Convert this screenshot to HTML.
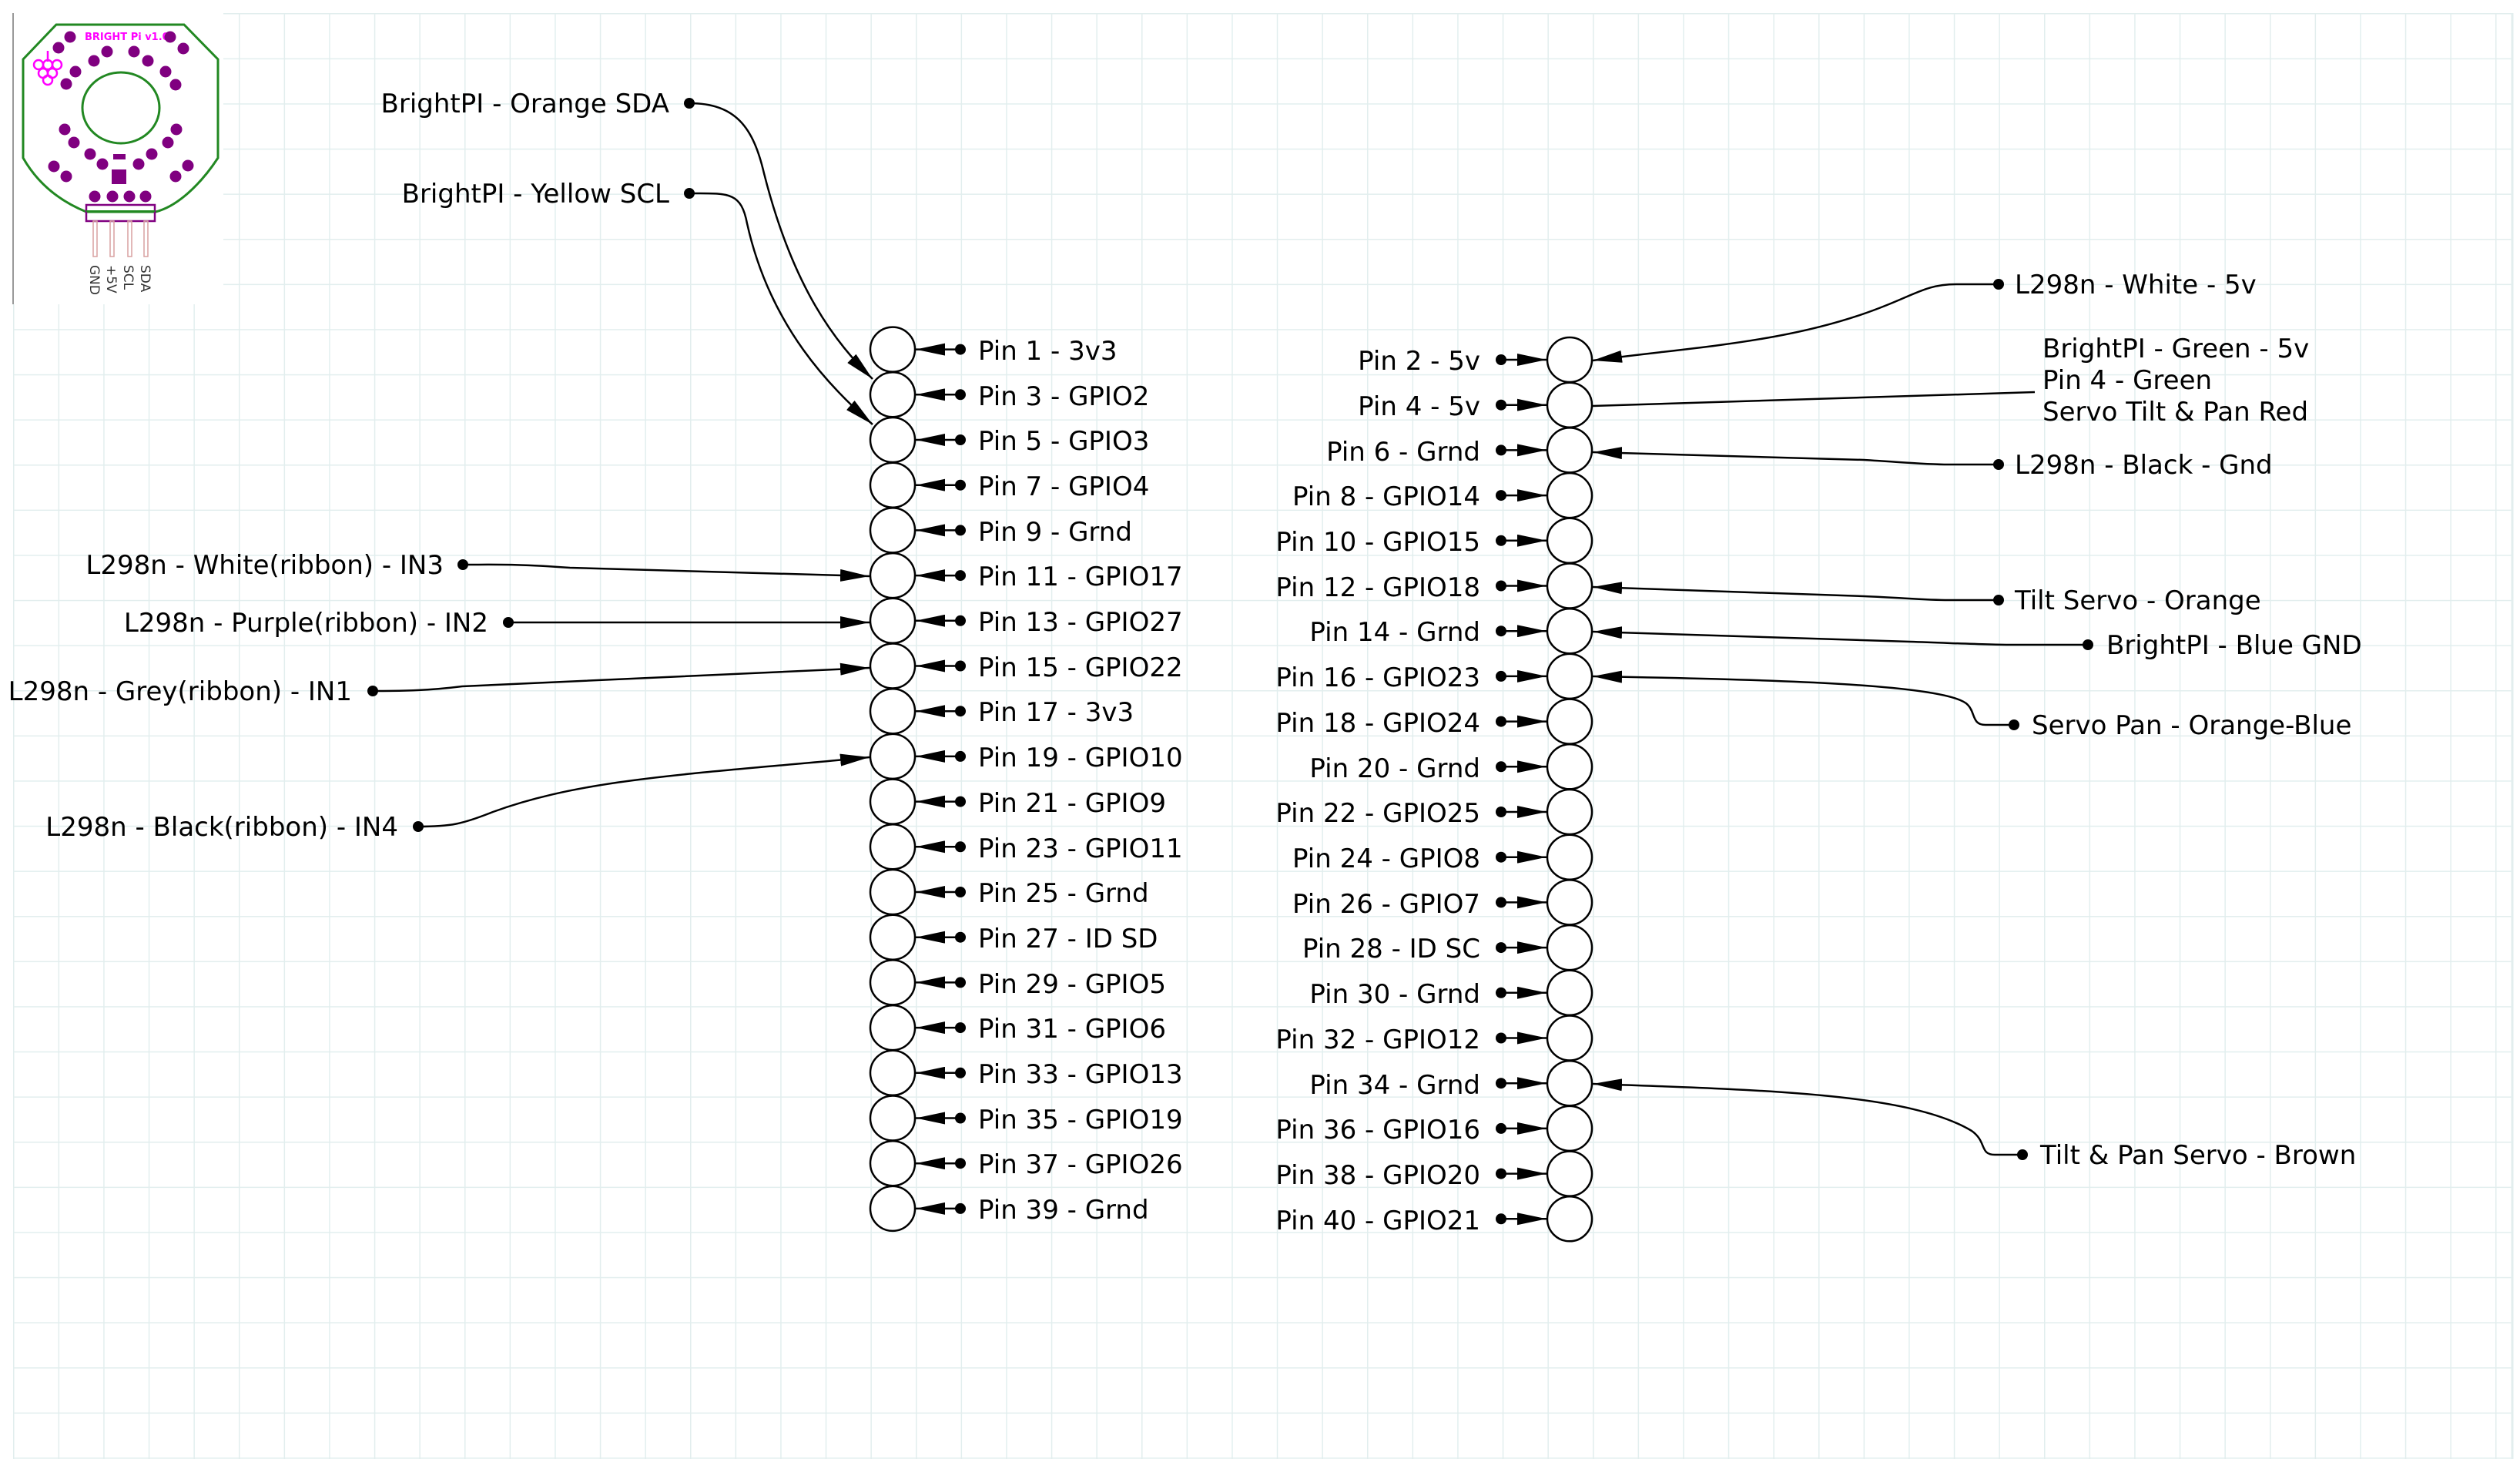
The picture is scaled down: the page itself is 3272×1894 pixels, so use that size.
<!DOCTYPE html>
<html><head><meta charset="utf-8"><style>
html,body{margin:0;padding:0;background:#fff}
svg{display:block}
text{font-family:"DejaVu Sans","Liberation Sans",sans-serif;font-size:34px;fill:#000}
</style></head><body>
<svg width="3272" height="1894" viewBox="0 0 3272 1894" xmlns="http://www.w3.org/2000/svg">
<defs>
<pattern id="g" x="17" y="17" width="58.6" height="58.6" patternUnits="userSpaceOnUse">
<path d="M0,0 H58.6 M0,0 V58.6" stroke="#e2eeee" stroke-width="3" fill="none"/>
</pattern>
<marker id="ah" markerUnits="userSpaceOnUse" viewBox="0 0 38 16" refX="38" refY="8" markerWidth="38" markerHeight="16" orient="auto">
<path d="M0,0 L38,8 L0,16 z" fill="#000"/>
</marker>
<marker id="dt" markerUnits="userSpaceOnUse" viewBox="0 0 16 16" refX="8" refY="8" markerWidth="16" markerHeight="16" orient="auto">
<circle cx="8" cy="8" r="7" fill="#000"/>
</marker>
</defs>
<rect x="17" y="17" width="3245" height="1877" fill="url(#g)"/>
<line x1="3262" y1="17" x2="3262" y2="1894" stroke="#e2eeee" stroke-width="3"/>

<!-- BrightPi board image -->
<rect x="17" y="17" width="273" height="378" fill="#fff"/>
<line x1="17" y1="17" x2="17" y2="395" stroke="#999" stroke-width="2"/>
<path d="M73,32 L239,32 L283,77 L283,205 C260,240 230,268 202,275 L112,275 C80,262 50,240 30,205 L30,77 Z" fill="#fff" stroke="#228822" stroke-width="3"/>
<ellipse cx="157" cy="140" rx="50" ry="46" fill="none" stroke="#228822" stroke-width="3"/>
<text x="110" y="52" style="font-size:13px;fill:#ff00ff;font-weight:bold">BRIGHT Pi v1.0</text>
<g fill="#800080">
<circle cx="91" cy="48" r="7.5"/><circle cx="221" cy="48" r="7.5"/><circle cx="76" cy="62" r="7.5"/><circle cx="238" cy="63" r="7.5"/>
<circle cx="139" cy="67" r="7.5"/><circle cx="174" cy="67" r="7.5"/><circle cx="122" cy="79" r="7.5"/><circle cx="192" cy="79" r="7.5"/>
<circle cx="98" cy="93" r="7.5"/><circle cx="215" cy="93" r="7.5"/><circle cx="86" cy="109" r="7.5"/><circle cx="228" cy="110" r="7.5"/>
<circle cx="84" cy="168" r="7.5"/><circle cx="229" cy="168" r="7.5"/><circle cx="96" cy="185" r="7.5"/><circle cx="218" cy="185" r="7.5"/>
<circle cx="117" cy="200" r="7.5"/><circle cx="197" cy="200" r="7.5"/><circle cx="133" cy="213" r="7.5"/><circle cx="180" cy="213" r="7.5"/>
<circle cx="70" cy="216" r="7.5"/><circle cx="244" cy="215" r="7.5"/><circle cx="86" cy="229" r="7.5"/><circle cx="228" cy="229" r="7.5"/>
<circle cx="123" cy="255" r="7.5"/><circle cx="146" cy="255" r="7.5"/><circle cx="168" cy="255" r="7.5"/><circle cx="189" cy="255" r="7.5"/>
<rect x="145" y="220" width="19" height="19"/>
<rect x="147" y="200" width="16" height="7"/>
</g>
<g fill="none" stroke="#ff00ff" stroke-width="2.5">
<circle cx="50" cy="84" r="6"/><circle cx="62" cy="84" r="6"/><circle cx="74" cy="84" r="6"/>
<circle cx="56" cy="95" r="6"/><circle cx="68" cy="95" r="6"/><circle cx="62" cy="104" r="6"/>
<line x1="62" y1="66" x2="62" y2="80"/>
</g>
<rect x="112" y="266" width="89" height="21" fill="none" stroke="#800080" stroke-width="2.5"/>
<line x1="112" y1="274" x2="201" y2="274" stroke="#228822" stroke-width="2"/>
<g fill="none" stroke="#d9a0a0" stroke-width="1.5">
<rect x="121" y="287" width="5" height="46"/><rect x="143" y="287" width="5" height="46"/>
<rect x="166" y="287" width="5" height="46"/><rect x="187" y="287" width="5" height="46"/>
</g>
<text transform="translate(183,344) rotate(90)" style="font-size:17px;fill:#333">SDA</text>
<text transform="translate(161,344) rotate(90)" style="font-size:17px;fill:#333">SCL</text>
<text transform="translate(139,344) rotate(90)" style="font-size:17px;fill:#333">+5V</text>
<text transform="translate(117,344) rotate(90)" style="font-size:17px;fill:#333">GND</text>

<!-- Left header column -->
<g fill="#fff" stroke="#000" stroke-width="2.5">
<circle cx="1159" cy="453.6" r="29"/><circle cx="1159" cy="512.3" r="29"/><circle cx="1159" cy="571" r="29"/><circle cx="1159" cy="629.7" r="29"/>
<circle cx="1159" cy="688.4" r="29"/><circle cx="1159" cy="747.1" r="29"/><circle cx="1159" cy="805.8" r="29"/><circle cx="1159" cy="864.5" r="29"/>
<circle cx="1159" cy="923.2" r="29"/><circle cx="1159" cy="981.9" r="29"/><circle cx="1159" cy="1040.6" r="29"/><circle cx="1159" cy="1099.3" r="29"/>
<circle cx="1159" cy="1158" r="29"/><circle cx="1159" cy="1216.7" r="29"/><circle cx="1159" cy="1275.4" r="29"/><circle cx="1159" cy="1334.1" r="29"/>
<circle cx="1159" cy="1392.8" r="29"/><circle cx="1159" cy="1451.5" r="29"/><circle cx="1159" cy="1510.2" r="29"/><circle cx="1159" cy="1568.9" r="29"/>
</g>
<g stroke="#000" stroke-width="2.5" marker-start="url(#dt)" marker-end="url(#ah)">
<line x1="1247" y1="453.6" x2="1189" y2="453.6"/><line x1="1247" y1="512.3" x2="1189" y2="512.3"/><line x1="1247" y1="571" x2="1189" y2="571"/><line x1="1247" y1="629.7" x2="1189" y2="629.7"/>
<line x1="1247" y1="688.4" x2="1189" y2="688.4"/><line x1="1247" y1="747.1" x2="1189" y2="747.1"/><line x1="1247" y1="805.8" x2="1189" y2="805.8"/><line x1="1247" y1="864.5" x2="1189" y2="864.5"/>
<line x1="1247" y1="923.2" x2="1189" y2="923.2"/><line x1="1247" y1="981.9" x2="1189" y2="981.9"/><line x1="1247" y1="1040.6" x2="1189" y2="1040.6"/><line x1="1247" y1="1099.3" x2="1189" y2="1099.3"/>
<line x1="1247" y1="1158" x2="1189" y2="1158"/><line x1="1247" y1="1216.7" x2="1189" y2="1216.7"/><line x1="1247" y1="1275.4" x2="1189" y2="1275.4"/><line x1="1247" y1="1334.1" x2="1189" y2="1334.1"/>
<line x1="1247" y1="1392.8" x2="1189" y2="1392.8"/><line x1="1247" y1="1451.5" x2="1189" y2="1451.5"/><line x1="1247" y1="1510.2" x2="1189" y2="1510.2"/><line x1="1247" y1="1568.9" x2="1189" y2="1568.9"/>
</g>
<g>
<text x="1270" y="467">Pin 1 - 3v3</text><text x="1270" y="526">Pin 3 - GPIO2</text><text x="1270" y="584">Pin 5 - GPIO3</text><text x="1270" y="643">Pin 7 - GPIO4</text>
<text x="1270" y="702">Pin 9 - Grnd</text><text x="1270" y="760">Pin 11 - GPIO17</text><text x="1270" y="819">Pin 13 - GPIO27</text><text x="1270" y="878">Pin 15 - GPIO22</text>
<text x="1270" y="936">Pin 17 - 3v3</text><text x="1270" y="995">Pin 19 - GPIO10</text><text x="1270" y="1054">Pin 21 - GPIO9</text><text x="1270" y="1113">Pin 23 - GPIO11</text>
<text x="1270" y="1171">Pin 25 - Grnd</text><text x="1270" y="1230">Pin 27 - ID SD</text><text x="1270" y="1289">Pin 29 - GPIO5</text><text x="1270" y="1347">Pin 31 - GPIO6</text>
<text x="1270" y="1406">Pin 33 - GPIO13</text><text x="1270" y="1465">Pin 35 - GPIO19</text><text x="1270" y="1523">Pin 37 - GPIO26</text><text x="1270" y="1582">Pin 39 - Grnd</text>
</g>

<!-- Right header column -->
<g fill="#fff" stroke="#000" stroke-width="2.5">
<circle cx="2038" cy="467" r="29"/><circle cx="2038" cy="525.7" r="29"/><circle cx="2038" cy="584.4" r="29"/><circle cx="2038" cy="643.1" r="29"/>
<circle cx="2038" cy="701.8" r="29"/><circle cx="2038" cy="760.5" r="29"/><circle cx="2038" cy="819.2" r="29"/><circle cx="2038" cy="877.9" r="29"/>
<circle cx="2038" cy="936.6" r="29"/><circle cx="2038" cy="995.3" r="29"/><circle cx="2038" cy="1054" r="29"/><circle cx="2038" cy="1112.7" r="29"/>
<circle cx="2038" cy="1171.4" r="29"/><circle cx="2038" cy="1230.1" r="29"/><circle cx="2038" cy="1288.8" r="29"/><circle cx="2038" cy="1347.5" r="29"/>
<circle cx="2038" cy="1406.2" r="29"/><circle cx="2038" cy="1464.9" r="29"/><circle cx="2038" cy="1523.6" r="29"/><circle cx="2038" cy="1582.3" r="29"/>
</g>
<g stroke="#000" stroke-width="2.5" marker-start="url(#dt)" marker-end="url(#ah)">
<line x1="1949" y1="467" x2="2008" y2="467"/><line x1="1949" y1="525.7" x2="2008" y2="525.7"/><line x1="1949" y1="584.4" x2="2008" y2="584.4"/><line x1="1949" y1="643.1" x2="2008" y2="643.1"/>
<line x1="1949" y1="701.8" x2="2008" y2="701.8"/><line x1="1949" y1="760.5" x2="2008" y2="760.5"/><line x1="1949" y1="819.2" x2="2008" y2="819.2"/><line x1="1949" y1="877.9" x2="2008" y2="877.9"/>
<line x1="1949" y1="936.6" x2="2008" y2="936.6"/><line x1="1949" y1="995.3" x2="2008" y2="995.3"/><line x1="1949" y1="1054" x2="2008" y2="1054"/><line x1="1949" y1="1112.7" x2="2008" y2="1112.7"/>
<line x1="1949" y1="1171.4" x2="2008" y2="1171.4"/><line x1="1949" y1="1230.1" x2="2008" y2="1230.1"/><line x1="1949" y1="1288.8" x2="2008" y2="1288.8"/><line x1="1949" y1="1347.5" x2="2008" y2="1347.5"/>
<line x1="1949" y1="1406.2" x2="2008" y2="1406.2"/><line x1="1949" y1="1464.9" x2="2008" y2="1464.9"/><line x1="1949" y1="1523.6" x2="2008" y2="1523.6"/><line x1="1949" y1="1582.3" x2="2008" y2="1582.3"/>
</g>
<g text-anchor="end">
<text x="1922" y="480">Pin 2 - 5v</text><text x="1922" y="539">Pin 4 - 5v</text><text x="1922" y="598">Pin 6 - Grnd</text><text x="1922" y="656">Pin 8 - GPIO14</text>
<text x="1922" y="715">Pin 10 - GPIO15</text><text x="1922" y="774">Pin 12 - GPIO18</text><text x="1922" y="832">Pin 14 - Grnd</text><text x="1922" y="891">Pin 16 - GPIO23</text>
<text x="1922" y="950">Pin 18 - GPIO24</text><text x="1922" y="1009">Pin 20 - Grnd</text><text x="1922" y="1067">Pin 22 - GPIO25</text><text x="1922" y="1126">Pin 24 - GPIO8</text>
<text x="1922" y="1185">Pin 26 - GPIO7</text><text x="1922" y="1243">Pin 28 - ID SC</text><text x="1922" y="1302">Pin 30 - Grnd</text><text x="1922" y="1361">Pin 32 - GPIO12</text>
<text x="1922" y="1420">Pin 34 - Grnd</text><text x="1922" y="1478">Pin 36 - GPIO16</text><text x="1922" y="1537">Pin 38 - GPIO20</text><text x="1922" y="1596">Pin 40 - GPIO21</text>
</g>

<!-- external connectors -->
<g fill="none" stroke="#000" stroke-width="2.5" marker-start="url(#dt)" marker-end="url(#ah)">
<path d="M895,134 C955,134 978,165 992,225 C1030,375 1085,445 1133,492"/>
<path d="M895,251 C945,251 962,248 970,290 C1000,425 1080,505 1133,551"/>
<path d="M601,733 C650,733 670,732 740,737 L1129,748"/>
<path d="M660,808 L1129,808"/>
<path d="M484,897 C530,897 560,896 600,891 L1129,867"/>
<path d="M543,1073 C585,1073 600,1070 640,1054 C760,1010 900,1005 1129,983"/>
<path d="M2595,369 L2540,369 C2505,369 2490,380 2450,396 C2330,445 2200,450 2068,468"/>
<path d="M2595,603 L2530,603 C2500,603 2470,600 2420,597 L2068,587"/>
<path d="M2595,779 L2530,779 C2500,779 2470,776 2420,774 L2068,762"/>
<path d="M2711,837 L2610,837 C2580,837 2540,835 2480,833 L2068,820"/>
<path d="M2615,941 L2578,941 C2560,941 2565,925 2555,915 C2530,888 2300,882 2068,878"/>
<path d="M2626,1499 L2590,1499 C2570,1499 2580,1482 2560,1468 C2480,1420 2300,1415 2068,1407"/>
</g>
<line x1="2642" y1="509" x2="2068" y2="527" stroke="#000" stroke-width="2.5"/>

<g text-anchor="end">
<text x="869" y="146">BrightPI - Orange SDA</text>
<text x="869" y="263">BrightPI - Yellow SCL</text>
<text x="576" y="745">L298n - White(ribbon) - IN3</text>
<text x="634" y="820">L298n - Purple(ribbon) - IN2</text>
<text x="457" y="909">L298n - Grey(ribbon) - IN1</text>
<text x="517" y="1085">L298n - Black(ribbon) - IN4</text>
</g>
<g>
<text x="2616" y="381">L298n - White - 5v</text>
<text x="2652" y="464">BrightPI - Green - 5v</text>
<text x="2652" y="505">Pin 4 - Green</text>
<text x="2652" y="546">Servo Tilt &amp; Pan Red</text>
<text x="2616" y="615">L298n - Black - Gnd</text>
<text x="2616" y="791">Tilt Servo - Orange</text>
<text x="2735" y="849">BrightPI - Blue GND</text>
<text x="2638" y="953">Servo Pan - Orange-Blue</text>
<text x="2649" y="1511">Tilt &amp; Pan Servo - Brown</text>
</g>
</svg>
</body></html>
